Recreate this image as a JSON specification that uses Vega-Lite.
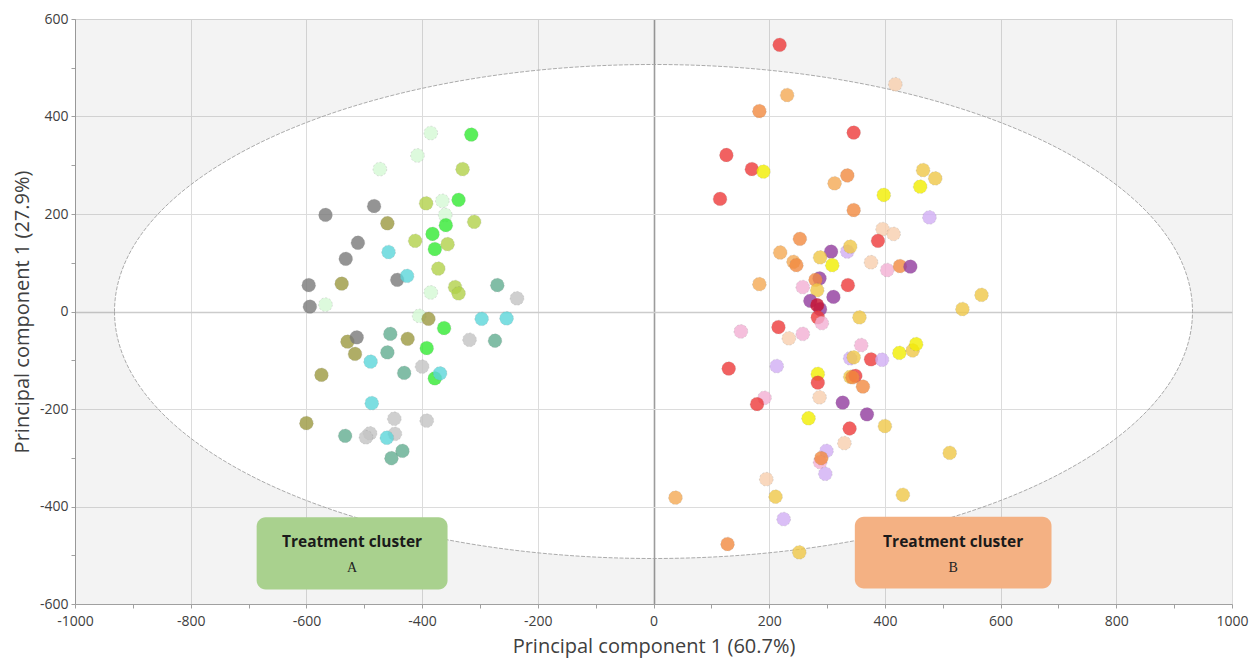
{
  "$schema": "https://vega.github.io/schema/vega-lite/v6.json",
  "width": 1157,
  "height": 585,
  "autosize": {"type": "none"},
  "padding": {"left": 75, "top": 19, "right": 26, "bottom": 59},
  "background": "white",
  "config": {"view": {"stroke": null}, "font": "Open Sans"},
  "datasets": {
    "scores": [
      {"pc1": -385, "pc2": 366, "group": "A6"}, {"pc1": -315, "pc2": 363, "group": "A5"}, {"pc1": -408, "pc2": 320, "group": "A6"}, {"pc1": -473, "pc2": 292, "group": "A6"},
      {"pc1": -330, "pc2": 292, "group": "A4"}, {"pc1": -483, "pc2": 216, "group": "A1"}, {"pc1": -393, "pc2": 222, "group": "A4"}, {"pc1": -365, "pc2": 227, "group": "A6"},
      {"pc1": -337, "pc2": 229, "group": "A5"}, {"pc1": -567, "pc2": 198, "group": "A1"}, {"pc1": -360, "pc2": 198, "group": "A6"}, {"pc1": -359, "pc2": 177, "group": "A5"},
      {"pc1": -310, "pc2": 184, "group": "A4"}, {"pc1": -460, "pc2": 181, "group": "A3"}, {"pc1": -382, "pc2": 159, "group": "A5"}, {"pc1": -412, "pc2": 145, "group": "A4"},
      {"pc1": -356, "pc2": 138, "group": "A4"}, {"pc1": -378, "pc2": 128, "group": "A5"}, {"pc1": -511, "pc2": 141, "group": "A1"}, {"pc1": -458, "pc2": 122, "group": "A7"},
      {"pc1": -532, "pc2": 108, "group": "A1"}, {"pc1": -372, "pc2": 88, "group": "A4"}, {"pc1": -443, "pc2": 65, "group": "A1"}, {"pc1": -426, "pc2": 73, "group": "A7"},
      {"pc1": -596, "pc2": 54, "group": "A1"}, {"pc1": -539, "pc2": 57, "group": "A3"}, {"pc1": -343, "pc2": 50, "group": "A4"}, {"pc1": -337, "pc2": 37, "group": "A4"},
      {"pc1": -385, "pc2": 39, "group": "A6"}, {"pc1": -270, "pc2": 54, "group": "A8"}, {"pc1": -236, "pc2": 27, "group": "A2"}, {"pc1": -594, "pc2": 10, "group": "A1"},
      {"pc1": -567, "pc2": 14, "group": "A6"}, {"pc1": -405, "pc2": -9, "group": "A6"}, {"pc1": -389, "pc2": -15, "group": "A3"}, {"pc1": -362, "pc2": -34, "group": "A5"},
      {"pc1": -297, "pc2": -15, "group": "A7"}, {"pc1": -254, "pc2": -14, "group": "A7"}, {"pc1": -529, "pc2": -62, "group": "A3"}, {"pc1": -513, "pc2": -53, "group": "A1"},
      {"pc1": -455, "pc2": -46, "group": "A8"}, {"pc1": -425, "pc2": -56, "group": "A3"}, {"pc1": -392, "pc2": -75, "group": "A5"}, {"pc1": -318, "pc2": -58, "group": "A2"},
      {"pc1": -274, "pc2": -60, "group": "A8"}, {"pc1": -516, "pc2": -87, "group": "A3"}, {"pc1": -460, "pc2": -84, "group": "A8"}, {"pc1": -489, "pc2": -103, "group": "A7"},
      {"pc1": -400, "pc2": -113, "group": "A2"}, {"pc1": -431, "pc2": -126, "group": "A8"}, {"pc1": -378, "pc2": -137, "group": "A5"}, {"pc1": -369, "pc2": -127, "group": "A7"},
      {"pc1": -574, "pc2": -130, "group": "A3"}, {"pc1": -487, "pc2": -188, "group": "A7"}, {"pc1": -600, "pc2": -229, "group": "A3"}, {"pc1": -448, "pc2": -220, "group": "A2"},
      {"pc1": -392, "pc2": -224, "group": "A2"}, {"pc1": -533, "pc2": -255, "group": "A8"}, {"pc1": -490, "pc2": -250, "group": "A2"}, {"pc1": -497, "pc2": -258, "group": "A2"},
      {"pc1": -447, "pc2": -251, "group": "A2"}, {"pc1": -461, "pc2": -259, "group": "A7"}, {"pc1": -434, "pc2": -286, "group": "A8"}, {"pc1": -453, "pc2": -301, "group": "A8"},
      {"pc1": 218, "pc2": 547, "group": "B1"}, {"pc1": 418, "pc2": 466, "group": "B4"}, {"pc1": 231, "pc2": 444, "group": "B3"}, {"pc1": 183, "pc2": 411, "group": "B2"},
      {"pc1": 346, "pc2": 367, "group": "B1"}, {"pc1": 126, "pc2": 321, "group": "B1"}, {"pc1": 170, "pc2": 292, "group": "B1"}, {"pc1": 190, "pc2": 287, "group": "B5"},
      {"pc1": 466, "pc2": 290, "group": "B6"}, {"pc1": 487, "pc2": 273, "group": "B6"}, {"pc1": 461, "pc2": 256, "group": "B5"}, {"pc1": 313, "pc2": 263, "group": "B3"},
      {"pc1": 335, "pc2": 279, "group": "B2"}, {"pc1": 398, "pc2": 239, "group": "B5"}, {"pc1": 115, "pc2": 231, "group": "B1"}, {"pc1": 346, "pc2": 208, "group": "B2"},
      {"pc1": 477, "pc2": 193, "group": "B8"}, {"pc1": 396, "pc2": 169, "group": "B4"}, {"pc1": 415, "pc2": 159, "group": "B4"}, {"pc1": 388, "pc2": 145, "group": "B1"},
      {"pc1": 253, "pc2": 149, "group": "B2"}, {"pc1": 219, "pc2": 121, "group": "B3"}, {"pc1": 242, "pc2": 102, "group": "B3"}, {"pc1": 247, "pc2": 95, "group": "B2"},
      {"pc1": 335, "pc2": 123, "group": "B8"}, {"pc1": 307, "pc2": 123, "group": "B7"}, {"pc1": 340, "pc2": 133, "group": "B6"}, {"pc1": 288, "pc2": 111, "group": "B6"},
      {"pc1": 309, "pc2": 95, "group": "B5"}, {"pc1": 376, "pc2": 101, "group": "B4"}, {"pc1": 404, "pc2": 85, "group": "B9"}, {"pc1": 426, "pc2": 93, "group": "B2"},
      {"pc1": 444, "pc2": 92, "group": "B7"}, {"pc1": 183, "pc2": 56, "group": "B3"}, {"pc1": 287, "pc2": 68, "group": "B7"}, {"pc1": 280, "pc2": 65, "group": "B2"},
      {"pc1": 258, "pc2": 50, "group": "B9"}, {"pc1": 283, "pc2": 44, "group": "B6"}, {"pc1": 336, "pc2": 54, "group": "B1"}, {"pc1": 311, "pc2": 30, "group": "B7"},
      {"pc1": 271, "pc2": 22, "group": "B7"}, {"pc1": 288, "pc2": 5, "group": "B7"}, {"pc1": 283, "pc2": 13, "group": "B10"}, {"pc1": 284, "pc2": -12, "group": "B1"},
      {"pc1": 291, "pc2": -24, "group": "B9"}, {"pc1": 356, "pc2": -12, "group": "B6"}, {"pc1": 534, "pc2": 5, "group": "B6"}, {"pc1": 567, "pc2": 34, "group": "B6"},
      {"pc1": 151, "pc2": -41, "group": "B9"}, {"pc1": 216, "pc2": -32, "group": "B1"}, {"pc1": 234, "pc2": -55, "group": "B4"}, {"pc1": 258, "pc2": -46, "group": "B9"},
      {"pc1": 359, "pc2": -69, "group": "B9"}, {"pc1": 340, "pc2": -96, "group": "B8"}, {"pc1": 346, "pc2": -94, "group": "B6"}, {"pc1": 376, "pc2": -98, "group": "B1"},
      {"pc1": 395, "pc2": -99, "group": "B8"}, {"pc1": 425, "pc2": -85, "group": "B5"}, {"pc1": 448, "pc2": -80, "group": "B6"}, {"pc1": 454, "pc2": -67, "group": "B5"},
      {"pc1": 130, "pc2": -117, "group": "B1"}, {"pc1": 213, "pc2": -112, "group": "B8"}, {"pc1": 284, "pc2": -128, "group": "B5"}, {"pc1": 284, "pc2": -146, "group": "B1"},
      {"pc1": 340, "pc2": -134, "group": "B6"}, {"pc1": 349, "pc2": -132, "group": "B1"}, {"pc1": 344, "pc2": -135, "group": "B2"}, {"pc1": 362, "pc2": -154, "group": "B2"},
      {"pc1": 287, "pc2": -176, "group": "B4"}, {"pc1": 327, "pc2": -187, "group": "B7"}, {"pc1": 369, "pc2": -211, "group": "B7"}, {"pc1": 192, "pc2": -177, "group": "B9"},
      {"pc1": 179, "pc2": -190, "group": "B1"}, {"pc1": 268, "pc2": -219, "group": "B5"}, {"pc1": 339, "pc2": -240, "group": "B1"}, {"pc1": 400, "pc2": -235, "group": "B6"},
      {"pc1": 330, "pc2": -270, "group": "B4"}, {"pc1": 299, "pc2": -286, "group": "B8"}, {"pc1": 288, "pc2": -309, "group": "B9"}, {"pc1": 290, "pc2": -301, "group": "B2"},
      {"pc1": 297, "pc2": -333, "group": "B8"}, {"pc1": 512, "pc2": -290, "group": "B6"}, {"pc1": 195, "pc2": -344, "group": "B4"}, {"pc1": 211, "pc2": -380, "group": "B6"},
      {"pc1": 431, "pc2": -376, "group": "B6"}, {"pc1": 38, "pc2": -382, "group": "B3"}, {"pc1": 225, "pc2": -426, "group": "B8"}, {"pc1": 128, "pc2": -477, "group": "B2"},
      {"pc1": 252, "pc2": -494, "group": "B6"}
    ]
  },
  "layer": [
    {
      "data": {"values": [{}]},
      "mark": {
        "type": "point",
        "shape": "M-1,-0.50562L1,-0.50562L1,0.50562L-1,0.50562Z M-0.93172,0A0.93172,0.42697,0,0,0,0,0.42697A0.93172,0.42697,0,0,0,0.93172,0A0.93172,0.42697,0,0,0,0,-0.42697A0.93172,0.42697,0,0,0,-0.93172,0Z",
        "size": 1338649,
        "filled": true,
        "fill": "#000000",
        "fillOpacity": 0.048,
        "strokeWidth": 0,
        "opacity": 1
      },
      "encoding": {
        "x": {"datum": 0, "type": "quantitative", "scale": {"domain": [-1000, 1000], "nice": false, "zero": false}},
        "y": {"datum": 0, "type": "quantitative", "scale": {"domain": [-600, 600], "nice": false, "zero": false}}
      }
    },
    {
      "data": {"values": [{}]},
      "mark": {
        "type": "point",
        "shape": "M-0.93172,0A0.93172,0.42697,0,0,0,0,0.42697A0.93172,0.42697,0,0,0,0.93172,0A0.93172,0.42697,0,0,0,0,-0.42697A0.93172,0.42697,0,0,0,-0.93172,0Z",
        "size": 1338649,
        "filled": false,
        "stroke": "#a2a2a2",
        "strokeWidth": 0.9,
        "strokeDash": [4, 1.5],
        "opacity": 1
      },
      "encoding": {
        "x": {"datum": 0, "type": "quantitative", "scale": {"domain": [-1000, 1000], "nice": false, "zero": false}},
        "y": {"datum": 0, "type": "quantitative", "scale": {"domain": [-600, 600], "nice": false, "zero": false}}
      }
    },
    {
      "data": {"name": "scores"},
      "mark": {"type": "circle", "size": 190, "opacity": 0.8, "stroke": "#777777", "strokeWidth": 0.8, "strokeOpacity": 0.35, "strokeDash": [2, 2]},
      "encoding": {
        "x": {
          "field": "pc1", "type": "quantitative",
          "scale": {"domain": [-1000, 1000], "nice": false, "zero": false},
          "axis": {
            "title": "Principal component 1 (60.7%)",
            "grid": true,
            "values": [-1000,-950,-900,-850,-800,-750,-700,-650,-600,-550,-500,-450,-400,-350,-300,-250,-200,-150,-100,-50,0,50,100,150,200,250,300,350,400,450,500,550,600,650,700,750,800,850,900,950,1000],
            "labelExpr": "datum.value % 200 === 0 ? '' + datum.value : ''",
            "labelOverlap": false,
            "labelFlush": false,
            "labelFontSize": 14,
            "labelColor": "#404040",
            "labelPadding": 6,
            "tickSize": 4,
            "tickColor": "#a0a0a0",
            "domainColor": "#a0a0a0",
            "gridColor": {"condition": {"test": "datum.value === 0", "value": "#9c9c9c"}, "value": "#dcdcdc"},
            "gridWidth": {"condition": {"test": "datum.value === 0", "value": 1.6}, "value": 1},
            "gridOpacity": {"condition": {"test": "datum.value % 200 !== 0", "value": 0}, "value": 1},
            "titleFontSize": 20,
            "titleFontWeight": "normal",
            "titleColor": "#404040",
            "titlePadding": 8
          }
        },
        "y": {
          "field": "pc2", "type": "quantitative",
          "scale": {"domain": [-600, 600], "nice": false, "zero": false},
          "axis": {
            "title": "Principal component 1 (27.9%)",
            "grid": true,
            "values": [-600,-550,-500,-450,-400,-350,-300,-250,-200,-150,-100,-50,0,50,100,150,200,250,300,350,400,450,500,550,600],
            "labelExpr": "datum.value % 200 === 0 ? '' + datum.value : ''",
            "labelOverlap": false,
            "labelFlush": false,
            "labelFontSize": 14,
            "labelColor": "#404040",
            "labelPadding": 3,
            "tickSize": 4,
            "tickColor": "#a0a0a0",
            "domainColor": "#a0a0a0",
            "gridColor": {"condition": {"test": "datum.value === 0", "value": "#cccccc"}, "value": "#dcdcdc"},
            "gridWidth": {"condition": {"test": "datum.value === 0", "value": 1.5}, "value": 1},
            "gridOpacity": {"condition": {"test": "datum.value % 200 !== 0", "value": 0}, "value": 1},
            "titleFontSize": 20,
            "titleFontWeight": "normal",
            "titleColor": "#404040",
            "titlePadding": 7
          }
        },
        "color": {
          "field": "group", "type": "nominal", "legend": null,
          "scale": {
            "domain": ["A1","A2","A3","A4","A5","A6","A7","A8","B1","B2","B3","B4","B5","B6","B7","B8","B9","B10"],
            "range": ["#7a7a7a","#c4c4c4","#9c9940","#b2d24a","#33ea33","#d5fad5","#5cd6da","#62ad90","#ee3a3a","#f28a40","#f5aa55","#f8cfae","#f2ee00","#f0c848","#923c9e","#d2aef5","#f3b0d4","#c8102e"]
          }
        }
      }
    },
    {
      "data": {"values": [{}]},
      "mark": {"type": "rect", "fill": "#a9d18e", "cornerRadius": 9},
      "encoding": {
        "x": {"datum": -686, "type": "quantitative"}, "x2": {"datum": -356},
        "y": {"datum": -422, "type": "quantitative"}, "y2": {"datum": -570}
      }
    },
    {
      "data": {"values": [{}]},
      "mark": {"type": "rect", "fill": "#f4b183", "cornerRadius": 9},
      "encoding": {
        "x": {"datum": 348, "type": "quantitative"}, "x2": {"datum": 688},
        "y": {"datum": -421, "type": "quantitative"}, "y2": {"datum": -568}
      }
    },
    {
      "data": {"values": [{}]},
      "mark": {"type": "text", "text": "Treatment cluster", "font": "Open Sans", "fontWeight": "bold", "fontSize": 15.5, "color": "#1a1a1a", "align": "center", "baseline": "middle"},
      "encoding": {"x": {"datum": -521, "type": "quantitative"}, "y": {"datum": -472, "type": "quantitative"}}
    },
    {
      "data": {"values": [{}]},
      "mark": {"type": "text", "text": "A", "font": "Liberation Serif", "fontSize": 14, "color": "#222222", "align": "center", "baseline": "middle"},
      "encoding": {"x": {"datum": -521, "type": "quantitative"}, "y": {"datum": -526, "type": "quantitative"}}
    },
    {
      "data": {"values": [{}]},
      "mark": {"type": "text", "text": "Treatment cluster", "font": "Open Sans", "fontWeight": "bold", "fontSize": 15.5, "color": "#1a1a1a", "align": "center", "baseline": "middle"},
      "encoding": {"x": {"datum": 518, "type": "quantitative"}, "y": {"datum": -472, "type": "quantitative"}}
    },
    {
      "data": {"values": [{}]},
      "mark": {"type": "text", "text": "B", "font": "Liberation Serif", "fontSize": 14, "color": "#222222", "align": "center", "baseline": "middle"},
      "encoding": {"x": {"datum": 518, "type": "quantitative"}, "y": {"datum": -526, "type": "quantitative"}}
    }
  ]
}
